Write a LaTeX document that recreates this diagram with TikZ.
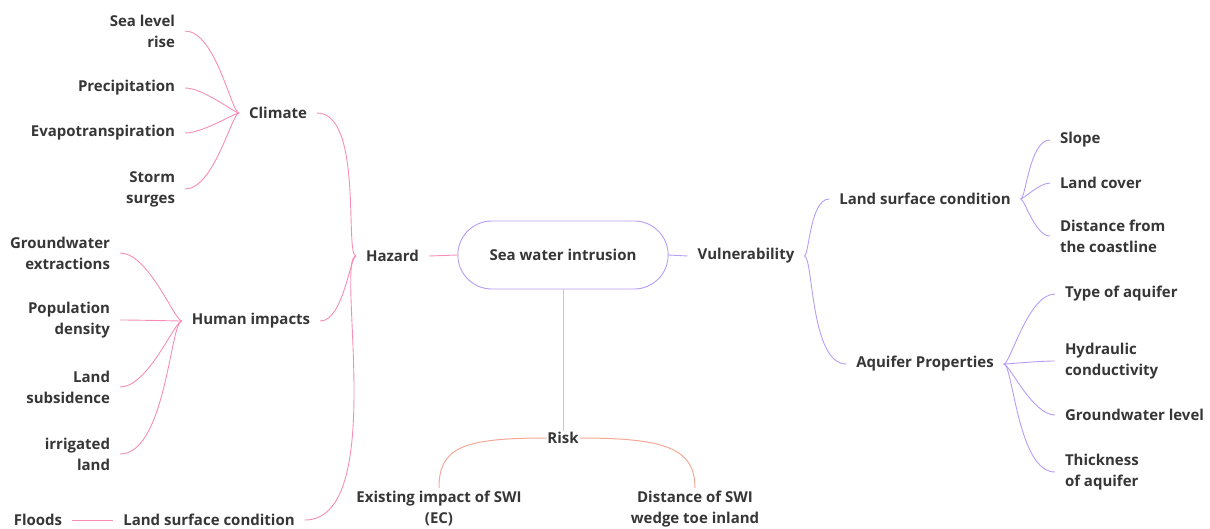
\documentclass[tikz,border=0pt]{standalone}
\usepackage{fontspec}
\setmainfont{Open Sans}
\usepackage{xcolor}
\definecolor{hazcolor}{HTML}{F78DB7}
\definecolor{vulcolor}{HTML}{B89CF5}
\definecolor{riskcolor}{HTML}{F5A898}
\definecolor{stemcolor}{HTML}{F7B4B6}
\definecolor{txtcolor}{HTML}{363636}
\usepackage{tikz}
\usetikzlibrary{positioning, calc, shapes.misc}

\begin{document}
\begin{tikzpicture}[x=1pt, y=-1pt,
  fnt/.style={font=\bfseries\fontsize{15}{21}\selectfont, text=txtcolor},
  lbl/.style={fnt, inner sep=0pt, outer xsep=10pt, yshift=-1pt},
  leafl/.style={lbl, align=right, anchor=east},
  leafr/.style={lbl, align=left, anchor=west},
  haz/.style={draw=hazcolor, line width=0.9pt},
  vul/.style={draw=vulcolor, line width=0.9pt},
  rsk/.style={draw=riskcolor, line width=1pt},
  tol/.style={out=0, in=180, out looseness=0.8, in looseness=0.2},
  tor/.style={out=0, in=180, out looseness=0.2, in looseness=0.8}]
  \useasboundingbox (0,0) rectangle (1210,528);

  % centre
  \node[fnt, rounded rectangle, draw=vulcolor, line width=0.9pt,
        minimum width=217pt, minimum height=68pt] (swi) at (563,255) {Sea water intrusion};
  \node[lbl] (hz) at (392.5,255) {Hazard};
  \node[lbl] (vul) at (746,255) {Vulnerability};
  \node[lbl, outer sep=1pt] (risk) at (563,437) {Risk};
  \draw[haz] (hz.east) -- (swi.west);
  \draw[vul] (swi.east) -- (vul.west);
  \draw[rsk, draw=stemcolor] (swi.south) -- (risk.north);

  % hazard side
  \node[lbl] (cl) at (278,112) {Climate};
  \node[lbl] (hum) at (251,320) {Human impacts};
  \node[lbl] (lsl) at (209,519) {Land surface condition};
  \node[lbl] (fl) at (38,519) {Floods};
  \foreach \grp in {cl, hum, lsl}
    \draw[haz] (\grp.east) to[tol] (hz.west);
  \draw[haz] (fl.east) -- (lsl.west);

  \foreach \nm/\y/\txt in {slr/30/{Sea level\\rise}, pre/87/Precipitation,
      eva/132/Evapotranspiration, sto/188/{Storm\\surges}} {
    \node[leafl] (\nm) at (185,\y) {\txt};
    \draw[haz] (\nm.east) to[tol] (cl.west);
  }
  \foreach \nm/\y/\txt in {gw/252/{Groundwater\\extractions}, pop/319/{Population\\density},
      sub/386/{Land\\subsidence}, irr/453/{irrigated\\land}} {
    \node[leafl] (\nm) at (120,\y) {\txt};
    \draw[haz] (\nm.east) to[tol] (hum.west);
  }

  % vulnerability side
  \node[lbl] (lsr) at (925,198) {Land surface condition};
  \node[lbl] (aq) at (925,363) {Aquifer Properties};
  \draw[vul] (vul.east) to[tor] (lsr.west);
  \draw[vul] (vul.east) to[tor] (aq.west);
  \foreach \nm/\y/\txt in {slo/139/Slope, lc/182/Land cover,
      dis/235/{Distance from\\the coastline}} {
    \node[leafr] (\nm) at (1050,\y) {\txt};
    \draw[vul] (lsr.east) to[tor] (\nm.west);
  }
  \foreach \nm/\y/\txt in {typ/293/Type of aquifer, hyd/360/{Hydraulic\\conductivity},
      gwl/414/Groundwater level, thk/471/{Thickness\\of aquifer}} {
    \node[leafr] (\nm) at (1055,\y) {\txt};
    \draw[vul] (aq.east) to[tor] (\nm.west);
  }

  % risk
  \node[lbl, align=center, anchor=north, outer ysep=3pt] (ex) at (439,487) {Existing impact of SWI\\(EC)};
  \node[lbl, align=center, anchor=north, outer ysep=3pt] (dst) at (695,487) {Distance of SWI\\wedge toe inland};
  \draw[rsk] (risk.west) .. controls +(-85,0) and +(0,-40) .. (ex.north);
  \draw[rsk] (risk.east) .. controls +(85,0) and +(0,-40) .. (dst.north);
\end{tikzpicture}
\end{document}
